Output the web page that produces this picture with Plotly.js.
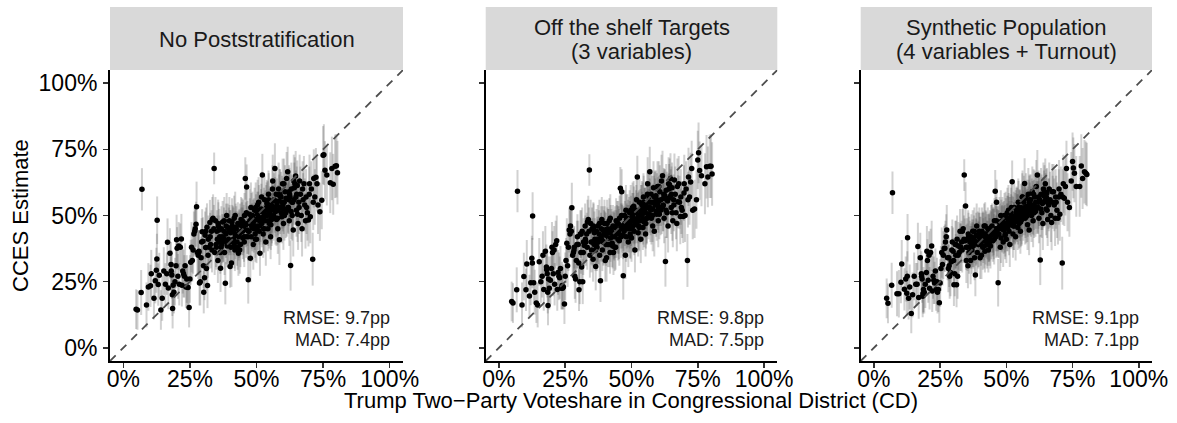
<!DOCTYPE html>
<html><head><meta charset="utf-8">
<script src="https://cdn.plot.ly/plotly-3.0.1.min.js"></script>
<style>html,body{margin:0;padding:0;background:#fff;}#chart{width:1177px;height:423px;}</style>
</head><body><div id="chart"></div>
<script>
const panelTitles = [["No Poststratification"], ["Off the shelf Targets", "(3 variables)"], ["Synthetic Population", "(4 variables + Turnout)"]];
const fitLabels = [["RMSE: 9.7pp", "MAD: 7.4pp"], ["RMSE: 9.8pp", "MAD: 7.5pp"], ["RMSE: 9.1pp", "MAD: 7.1pp"]];
const tickValues = [0, 25, 50, 75, 100];
const tickLabels = ["0%", "25%", "50%", "75%", "100%"];
const refLine = [-5, 105];
const xTitle = "Trump Two\u2212Party Voteshare in Congressional District (CD)";
const yTitle = "CCES Estimate";

// Trump two-party voteshare per CD (shared by all panels)
const districtShare = [
 4.8,5.3,6.7,7.0,8.7,9.4,10.2,10.5,11.5,12.0,12.4,12.6,12.7,13.1,13.5,14.1,14.6,15.2,15.8,
 16.3,16.6,16.9,17.5,17.9,18.0,18.2,18.4,18.5,18.7,19.0,19.4,19.8,20.0,20.2,20.5,20.8,21.0,21.4,21.8,22.0,22.3,22.6,22.9,23.2,23.5,23.8,24.0,24.3,24.7,25.0,25.3,25.6,25.9,
 26.2,26.5,26.8,27.0,27.3,27.5,27.8,28.1,28.4,28.6,28.9,29.2,29.6,29.9,30.2,30.5,30.7,30.9,31.2,31.4,31.6,31.9,32.2,32.5,32.8,33.1,33.4,33.7,34.1,34.3,34.6,34.9,35.1,35.3,35.5,35.7,35.9,
 36.2,36.5,36.8,37.0,37.3,37.5,37.8,38.0,38.3,38.5,38.8,39.0,39.2,39.5,39.8,40.1,40.3,40.6,40.9,41.1,41.4,41.6,41.9,42.1,42.4,42.7,43.0,43.2,43.5,43.8,44.0,44.3,44.6,44.9,45.2,45.5,45.8,46.1,46.3,46.6,46.9,
 47.2,47.5,47.7,48.0,48.2,48.5,48.8,49.0,49.3,49.5,49.8,50.0,50.3,50.5,50.8,51.0,51.3,51.5,51.8,52.0,52.2,52.5,52.8,53.0,53.3,53.5,53.8,54.0,54.3,54.5,54.8,55.0,55.3,55.5,55.8,56.0,
 56.3,56.6,56.9,57.1,57.4,57.7,58.0,58.3,58.6,58.9,59.2,59.5,59.8,60.1,60.4,60.7,61.0,61.3,61.7,62.0,62.3,62.6,62.8,63.1,63.4,63.8,64.1,64.4,64.7,65.0,65.3,65.6,65.9,
 66.2,66.5,66.8,67.1,67.5,67.8,68.1,68.4,68.8,69.1,69.5,69.8,70.2,70.6,71.1,71.5,71.9,72.3,72.7,73.1,73.8,74.5,75.0,75.3,75.7,76.4,77.7,78.3,78.8,79.5,80.0,80.4,
 36.0,36.7,37.6,38.6,39.4,40.0,40.8,41.3,42.2,42.9,43.6,44.2,44.8,45.4,46.0,46.8,47.4,48.4,49.1,49.7,50.2,50.7,51.2,51.7,52.3,52.9,53.4,53.9,54.4,54.9,55.4,55.9,56.4,56.9,57.5,58.1,58.7,59.3,59.9,60.5,61.1,61.8,62.4,63.0,63.6,64.2,64.8,65.4,
 37.2,39.9,41.7,43.3,45.0,46.5,48.1,49.4,50.9,52.6,54.2,55.7,57.2,58.4,60.2,62.1,
 28.3,29.4,30.1,31.0,31.8,32.6,33.3,34.0,34.8,35.6,36.4,37.1,37.9,38.7,39.6,40.4,41.2,42.0,42.8,43.7,44.5,45.3,46.2,47.0,47.9,48.7,49.6,50.4,51.1,51.9,52.7,53.6,54.6,55.2,56.1,57.0,57.9,58.8,59.6,60.3,61.4,62.2,63.3,64.0,65.1,66.0,67.3,68.6,69.9,71.3
];

// CCES estimate, no poststratification
const estNoPost = [
 14.6,14.3,20.9,59.9,16.2,23.0,23.4,28.0,18.7,25.3,29.3,33.6,48.2,23.9,27.4,14.3,18.7,29.0,24.0,
 28.0,39.9,22.6,35.7,31.5,29.0,27.5,20.0,14.8,23.6,21.0,25.0,31.0,40.8,37.6,27.0,38.5,24.0,38.0,41.1,23.6,29.0,28.0,27.0,31.0,23.0,26.0,23.0,22.8,15.2,26.0,32.3,38.0,33.0,
 37.0,43.0,44.0,45.0,46.7,53.3,36.0,35.0,36.5,24.5,25.0,34.0,43.9,40.3,21.0,26.5,42.5,37.9,30.0,45.6,23.5,41.0,38.0,47.4,39.0,44.0,48.5,49.0,67.8,36.0,48.0,38.0,44.0,41.0,33.0,46.0,40.0,
 42.0,30.1,45.0,39.0,47.5,41.0,44.0,36.0,24.4,43.0,50.0,38.5,45.5,41.0,48.0,30.7,43.5,32.0,46.0,40.0,44.0,49.0,37.0,42.5,45.0,40.0,47.0,35.7,43.0,46.5,39.0,44.0,48.0,41.5,45.0,50.0,64.0,42.0,60.8,47.0,25.7,
 44.0,48.0,33.8,42.0,46.0,50.0,39.0,45.0,52.0,43.0,48.5,41.0,50.5,46.0,55.0,44.0,35.7,49.0,52.5,47.0,65.3,43.0,51.0,56.0,48.0,40.0,53.0,50.0,45.0,58.0,47.0,52.0,42.0,55.0,49.0,60.0,
 52.0,56.0,67.8,49.0,58.0,54.0,45.0,60.0,40.8,53.0,57.0,49.5,62.0,47.0,55.0,59.0,51.0,64.0,66.5,53.0,48.0,57.0,31.1,60.0,50.0,44.5,56.0,62.0,64.9,52.0,61.3,47.0,55.0,
 63.0,58.0,50.0,45.0,56.0,62.0,54.0,48.0,53.0,51.0,48.3,58.0,49.5,60.0,33.5,64.0,57.0,64.5,62.0,54.0,51.4,55.8,72.8,73.0,67.1,65.3,62.4,67.8,61.8,68.6,68.8,66.2,
 44.5,38.0,41.5,46.0,39.5,44.0,47.5,41.0,45.5,38.0,43.5,48.5,44.0,40.0,46.5,42.0,50.5,45.5,48.0,53.0,44.5,49.5,46.0,51.5,48.5,45.0,50.0,54.5,48.0,51.0,46.5,53.5,50.0,55.5,48.5,52.0,57.5,51.0,54.0,50.0,56.5,53.0,58.0,51.5,55.0,60.5,57.0,50.5,
 40.5,45.0,38.5,42.0,47.5,44.5,49.0,46.0,52.0,49.5,53.5,48.5,51.5,55.5,52.5,56.0,
 36,40,31,44,35,42,37,45,39,47,36,42,48,40,44,38,45,50,43,37,46,42,51,44,53,47,41,54,48,57,45,52,56,50,63,53,49,58,55,62,52,59,55,63,58,53,60,57,62,55
];

// CCES estimate, off the shelf targets (3 variables)
const estOffShelf = [
 17.5,16.9,21.9,59.2,16.2,26.9,21.9,31.7,19.6,24.6,33.8,32.0,49.8,24.6,21.0,16.9,16.2,32.5,25.0,
 27.0,35.0,22.0,36.5,30.5,29.5,28.0,21.0,16.0,26.0,22.5,25.5,30.0,38.0,36.0,28.0,37.0,24.0,39.0,40.5,22.0,28.5,27.0,26.5,30.0,22.5,23.5,22.5,23.0,16.5,27.0,33.0,39.5,31.0,
 38.0,44.5,43.0,46.0,44.0,52.9,35.0,36.0,38.0,27.0,26.0,33.0,42.0,39.0,21.9,25.0,43.0,36.0,30.5,44.0,25.0,40.0,38.7,46.0,40.0,43.0,47.5,48.5,67.2,35.0,47.0,37.0,45.0,40.0,33.5,45.5,39.0,
 41.0,30.7,44.0,38.0,46.0,40.0,43.0,35.0,25.3,42.0,48.5,37.0,44.5,40.0,47.0,33.0,42.5,34.0,45.0,39.0,43.5,48.0,36.0,41.5,44.0,39.5,46.0,36.0,42.0,45.5,38.0,43.0,47.0,41.0,44.5,49.0,60.3,42.0,59.0,46.0,27.2,
 44.0,47.0,35.0,42.0,46.0,49.0,40.0,45.0,51.0,43.0,48.0,41.5,50.0,46.0,53.5,44.0,37.0,48.5,52.0,47.0,64.6,43.5,50.0,55.0,48.0,41.0,52.0,50.0,45.5,57.0,47.5,51.5,43.0,54.0,49.0,58.0,
 53.0,57.0,66.5,50.0,58.0,55.0,46.0,60.5,44.0,54.0,57.5,50.5,61.0,48.0,55.5,59.0,52.0,63.0,65.0,54.0,49.0,57.5,32.6,59.5,51.0,46.0,56.5,61.5,64.0,53.0,60.5,48.0,56.0,
 63.4,58.0,51.0,47.0,55.2,62.0,55.0,49.6,53.0,52.0,49.6,58.5,50.0,60.0,33.0,64.6,57.0,62.7,67.8,52.0,52.5,56.0,71.0,73.7,67.0,65.0,62.0,68.4,64.6,68.6,68.6,65.7,
 43.5,38.5,40.5,45.0,40.0,43.5,47.0,41.5,45.0,38.5,43.0,48.0,44.5,40.5,46.0,42.5,50.0,45.0,48.5,52.0,45.0,49.0,46.5,51.0,49.0,45.5,50.5,54.0,48.5,51.5,47.0,53.0,50.5,55.0,49.0,52.5,57.0,51.5,54.5,50.5,56.0,53.5,57.5,52.0,55.5,60.0,57.5,51.0,
 40.0,44.5,39.0,42.5,47.0,45.0,48.5,46.5,51.5,50.0,53.0,49.0,52.0,55.0,53.0,56.5,
 37,39,32,43,36,41,38,44,40,46,37,41,47,41,43,39,44,49,43,38,45,43,50,45,52,47,42,53,48,56,46,52,55,51,62,53,50,57,56,61,53,58,56,62,58,54,61,57,62,56
];

// CCES estimate, synthetic population (4 variables + turnout)
const estSynthetic = [
 18.7,16.8,23.6,58.6,20.4,20.4,24.8,31.7,22.1,26.0,20.6,27.0,41.6,18.7,23.0,13.0,20.0,27.0,24.0,
 24.0,38.3,19.0,34.0,28.0,27.0,26.0,19.5,20.5,22.0,21.0,24.0,28.5,36.5,33.0,25.5,35.0,22.5,36.0,38.5,21.5,27.0,25.5,24.5,29.0,22.0,25.0,21.0,22.0,17.0,24.5,30.0,36.0,31.5,
 35.0,37.5,37.6,40.0,42.0,44.5,34.0,30.0,31.0,27.0,28.5,32.5,40.0,36.5,23.8,28.0,39.0,35.0,23.8,41.0,27.0,38.5,36.0,44.0,38.0,40.0,44.0,45.0,65.3,40.4,53.6,33.0,41.0,38.0,31.0,42.0,36.0,
 40.0,33.0,42.0,37.0,44.0,38.5,41.0,34.0,27.5,40.0,46.0,36.0,42.5,39.0,44.0,34.0,41.0,35.0,43.0,38.0,42.0,46.0,36.5,40.5,43.0,39.0,45.0,37.0,41.5,44.0,38.5,42.5,46.0,40.5,44.0,48.0,59.2,42.0,55.0,45.0,24.6,
 43.0,46.0,38.0,41.5,45.0,48.0,40.0,44.5,50.0,42.5,47.0,41.0,49.0,45.5,52.0,44.0,39.0,48.0,51.0,46.5,62.8,43.0,49.5,53.0,47.5,42.0,51.0,49.0,45.5,55.0,47.0,51.0,44.0,53.0,48.5,57.0,
 52.0,55.0,62.1,49.0,56.5,53.5,46.5,58.0,44.5,52.5,56.0,50.0,59.0,48.0,54.0,57.0,51.5,61.0,65.3,53.0,49.0,56.0,33.2,58.0,51.0,47.0,55.0,59.0,62.0,52.5,58.5,48.5,54.5,
 60.0,56.0,50.0,47.4,55.0,59.0,54.0,49.0,55.0,52.0,49.0,57.0,50.5,58.0,32.0,62.0,56.5,61.0,67.8,55.0,53.0,63.0,70.4,68.0,66.0,61.0,61.0,68.7,64.0,66.5,66.0,65.5,
 41.5,38.5,39.5,42.5,39.0,41.5,44.0,40.5,43.0,39.5,42.0,45.5,43.5,41.0,45.0,43.0,47.5,45.0,47.0,49.5,45.5,48.0,46.5,49.5,48.0,46.0,49.0,52.0,48.5,50.5,47.5,52.0,50.0,53.0,49.5,51.5,55.0,51.5,53.0,51.0,55.0,53.0,56.0,52.5,54.5,57.5,56.0,52.0,
 39.0,42.0,38.5,41.5,44.5,43.5,46.5,45.0,49.0,48.0,51.0,48.5,51.0,53.5,52.0,55.0,
 34,37,33,39,35,38,37,41,38,43,38,40,44,40,42,39,43,46,42,40,45,43,48,45,50,46,43,51,48,53,46,50,53,50,57,52,50,56,54,58,53,57,55,60,57,54,59,57,60,57
];

// half-width of the uncertainty interval (pp)
const ciHalfWidth = [
 7.5,7.5,8.5,8,8.5,9,8,9,8,8.5,8.5,9.5,9,8,8.5,7.5,8.5,9,8,
 8,9,8,9.5,8.5,8,9,8,7.5,8.5,8,9,8.5,9.5,8,8.5,9,8,9,9.5,8,8.5,9,8,8.5,8,9,8,8.5,7.5,9,8.5,9.5,8,
 9,8.5,9,8,8.5,9.5,8.5,9,8,8.5,9,8,8.5,9,8,8.5,9,8,8.5,9,8.5,9,8,8.5,9,8,8.5,9,6,8.5,9,8.5,8,9,8.5,9,8,
 8,9,8.5,9,8,8.5,9,8.5,8,9,8.5,8,9,8.5,9,8,8.5,9,8,8.5,9,8.5,8,9,8.5,9,8,8.5,9,8,8.5,9,8.5,8,9,8.5,8,8,8.5,8.5,9,
 9,8.5,9,9.5,8.5,9,9.5,9,8.5,9,9.5,9,8.5,9,9.5,9,8.5,9,9.5,9,8,9,9.5,9,8.5,9,9.5,9,8.5,9,9.5,9,8.5,9,9.5,9,
 9.5,10,9.5,10,9.5,10,9.5,10,9.5,10,9.5,10,9.5,10,9.5,10,9.5,10,9.5,10,9.5,10,9.5,10,9.5,10,9.5,10,9.5,10,9.5,10,9.5,
 10,10.5,10,10.5,10,10.5,10,10.5,10,10.5,10,10.5,10,10.5,10,11,10.5,11,10.5,11,11,11,11,11.5,11,11.5,11.5,12,11.5,12,12,12,
 8,8.5,9,8.5,9,8,9,8.5,9,8.5,9,8.5,9,9.5,8.5,9,9.5,9,8.5,9.5,9,9.5,9,8.5,9.5,9,9.5,9,9.5,9,9.5,10,9.5,9,10,9.5,10,9.5,10,9.5,10,9.5,10,10.5,10,9.5,10,10.5,
 8.5,9,8.5,9,8.5,9,9.5,9,9.5,9,9.5,10,9.5,10,9.5,10,
 8.5,9,8.5,9,8.5,9,8.5,9,8.5,9,8,8.5,9,8.5,9,8,8.5,9,8.5,9,9,9.5,9,8.5,9.5,9,8.5,9.5,9,9.5,9,9.5,10,9.5,10,9.5,10,9.5,10,9.5,10,10,10.5,10,10.5,10,10.5,10.5,11,10.5
];

const estimates = [estNoPost, estOffShelf, estSynthetic];

const W = 1177, H = 423;
const panelLeft = [110, 485.7, 860.7], panelRight = [403, 777.3, 1152];
const plotTop = 70, plotBottom = 361, stripTop = 7;
const px = v => v / W, py = v => 1 - v / H;
const FONT = "Liberation Sans, Arial, Helvetica, sans-serif";

const traces = [];
const layout = {
  width: W, height: H, margin: {l: 0, r: 0, t: 0, b: 0},
  paper_bgcolor: "#ffffff", plot_bgcolor: "#ffffff",
  showlegend: false, font: {family: FONT, color: "#000"},
  shapes: [], annotations: []
};

for (let i = 0; i < 3; i++) {
  const s = i === 0 ? "" : String(i + 1);
  traces.push({
    type: "scatter", mode: "markers", x: districtShare, y: estimates[i],
    xaxis: "x" + s, yaxis: "y" + s,
    marker: {color: "#000000", size: 5.5},
    error_y: {type: "data", array: ciHalfWidth, visible: true, color: "rgba(70,70,70,0.25)", thickness: 2, width: 0},
    hoverinfo: "skip"
  });
  traces.push({
    type: "scatter", mode: "lines", x: refLine, y: refLine,
    xaxis: "x" + s, yaxis: "y" + s,
    line: {color: "#4d4d4d", width: 1.8, dash: "8px,7px"}, hoverinfo: "skip"
  });
  const axCommon = {
    range: [-5, 105], tickmode: "array", tickvals: tickValues, ticktext: tickLabels,
    showgrid: false, zeroline: false, showline: true, linecolor: "#000", linewidth: 2,
    ticks: "outside", ticklen: 5, tickwidth: 1.5, tickcolor: "#333",
    tickfont: {size: 23, color: "#000", family: FONT}, fixedrange: true
  };
  layout["xaxis" + s] = Object.assign({}, axCommon, {
    domain: [px(panelLeft[i]), px(panelRight[i])], anchor: "y" + s,
    ticklabelstandoff: -9
  });
  layout["yaxis" + s] = Object.assign({}, axCommon, {
    domain: [py(plotBottom), py(plotTop)], anchor: "x" + s, showticklabels: i === 0,
    ticklabelstandoff: 1
  });
  layout.shapes.push({
    type: "rect", xref: "paper", yref: "paper",
    x0: px(panelLeft[i]), x1: px(panelRight[i]), y0: py(plotTop), y1: py(stripTop),
    fillcolor: "#d9d9d9", line: {width: 0}, layer: "below"
  });
  const lines = panelTitles[i];
  const ys = lines.length === 1 ? [39] : [27.3, 51.5];
  lines.forEach((t, k) => layout.annotations.push({
    text: t, xref: "paper", yref: "paper",
    x: px((panelLeft[i] + panelRight[i]) / 2), y: py(ys[k]),
    xanchor: "center", yanchor: "middle", showarrow: false,
    font: {size: 22, color: "#1a1a1a", family: FONT}
  }));
  fitLabels[i].forEach((t, k) => layout.annotations.push({
    text: t, xref: "x" + s, yref: "y" + s, x: 100.7, y: k === 0 ? 11.3 : 3.0,
    xanchor: "right", yanchor: "middle", showarrow: false,
    font: {size: 18, color: "#1a1a1a", family: FONT}
  }));
}

layout.annotations.push({
  text: yTitle, xref: "paper", yref: "paper", x: px(21), y: py(216),
  xanchor: "center", yanchor: "middle", textangle: -90, showarrow: false,
  font: {size: 22, color: "#000", family: FONT}
});
layout.annotations.push({
  text: xTitle, xref: "paper", yref: "paper", x: px(631), y: py(400),
  xanchor: "center", yanchor: "middle", showarrow: false,
  font: {size: 22, color: "#000", family: FONT}
});

Plotly.newPlot("chart", traces, layout, {staticPlot: true, displayModeBar: false});
</script></body></html>
